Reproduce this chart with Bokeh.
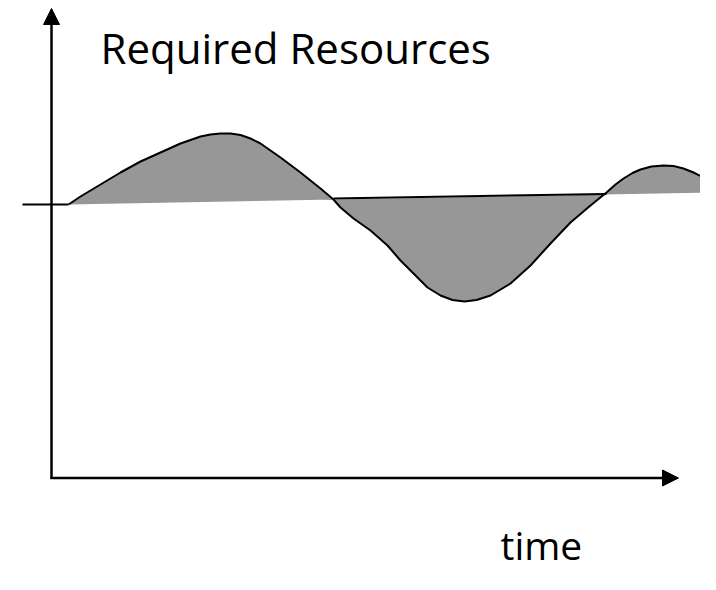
from bokeh.plotting import figure
from bokeh.models import Range1d, Arrow, NormalHead, Label
from bokeh.embed import file_html
from bokeh.resources import INLINE

# Time positions of the required-resources curve
curve_time = [68, 80, 90, 105, 120, 140, 160, 180, 190, 200,
              210, 220, 230, 240, 250, 260, 270, 280, 290, 300,
              310, 320, 333, 340, 353, 370, 387, 400, 413, 427,
              440, 452, 464, 476, 490, 510, 530, 550, 570, 590,
              606, 615, 623, 632, 640, 651, 663, 673, 683, 693,
              703, 716]
curve_resources = [386, 394, 400, 409, 418, 429, 438, 447, 450.5, 454,
                   456, 457, 457, 455.5, 452, 447, 440, 433, 425.5, 418,
                   410, 402, 391, 383, 372, 360, 345, 330, 317, 303,
                   295, 290.5, 289, 290.5, 295, 307, 325, 347, 368, 385,
                   398, 406, 412, 417.5, 421, 424, 425, 424.5, 422, 418,
                   413, 407]

# Available-resources baseline (straight line)
base_time = [68, 716]
base_resources = [386, 398]
stub_time = [22, 68]
stub_resources = [386, 386]
# Segment of the baseline drawn in black (between the two crossings)
cross_time = [333, 606]
cross_resources = [392, 396.5]

# Axis extents
axis_origin = (51, 112.5)
y_axis_top = 582
x_axis_right = 678

FONT = "Open Sans"

p = figure(width=700, height=574, output_backend="svg", toolbar_location=None,
           x_range=Range1d(0, 700), y_range=Range1d(16, 590),
           min_border=0, min_border_left=0, min_border_right=0,
           min_border_top=0, min_border_bottom=0)
p.axis.visible = False
p.grid.visible = False
p.outline_line_color = None
p.background_fill_color = "white"
p.border_fill_color = "white"

# filled area between curve and baseline
p.patch(x=curve_time + base_time[::-1], y=curve_resources + base_resources[::-1],
        fill_color="#979797", line_color=None)

# baseline stub on the left and black segment in the middle
p.line(x=stub_time, y=stub_resources, line_color="black", line_width=2)
p.line(x=cross_time, y=cross_resources, line_color="black", line_width=2)

# the curve
p.line(x=curve_time, y=curve_resources, line_color="black", line_width=2,
       line_join="round")

# axes with arrows
p.add_layout(Arrow(end=NormalHead(size=16, fill_color="black", line_color="black"),
                   x_start=axis_origin[0], y_start=axis_origin[1] - 1,
                   x_end=axis_origin[0], y_end=y_axis_top,
                   line_color="black", line_width=2.5))
p.add_layout(Arrow(end=NormalHead(size=16, fill_color="black", line_color="black"),
                   x_start=axis_origin[0] - 1, y_start=axis_origin[1],
                   x_end=x_axis_right, y_end=axis_origin[1],
                   line_color="black", line_width=2.5))

p.add_layout(Label(x=100, y=543, text="Required Resources", text_font=FONT,
                   text_font_size="42px", text_color="black",
                   text_baseline="alphabetic", text_align="left"))
p.add_layout(Label(x=500, y=46, text="time", text_font=FONT,
                   text_font_size="39px", text_color="black",
                   text_baseline="alphabetic", text_align="left"))

open("out.html", "w").write(file_html(p, INLINE))
